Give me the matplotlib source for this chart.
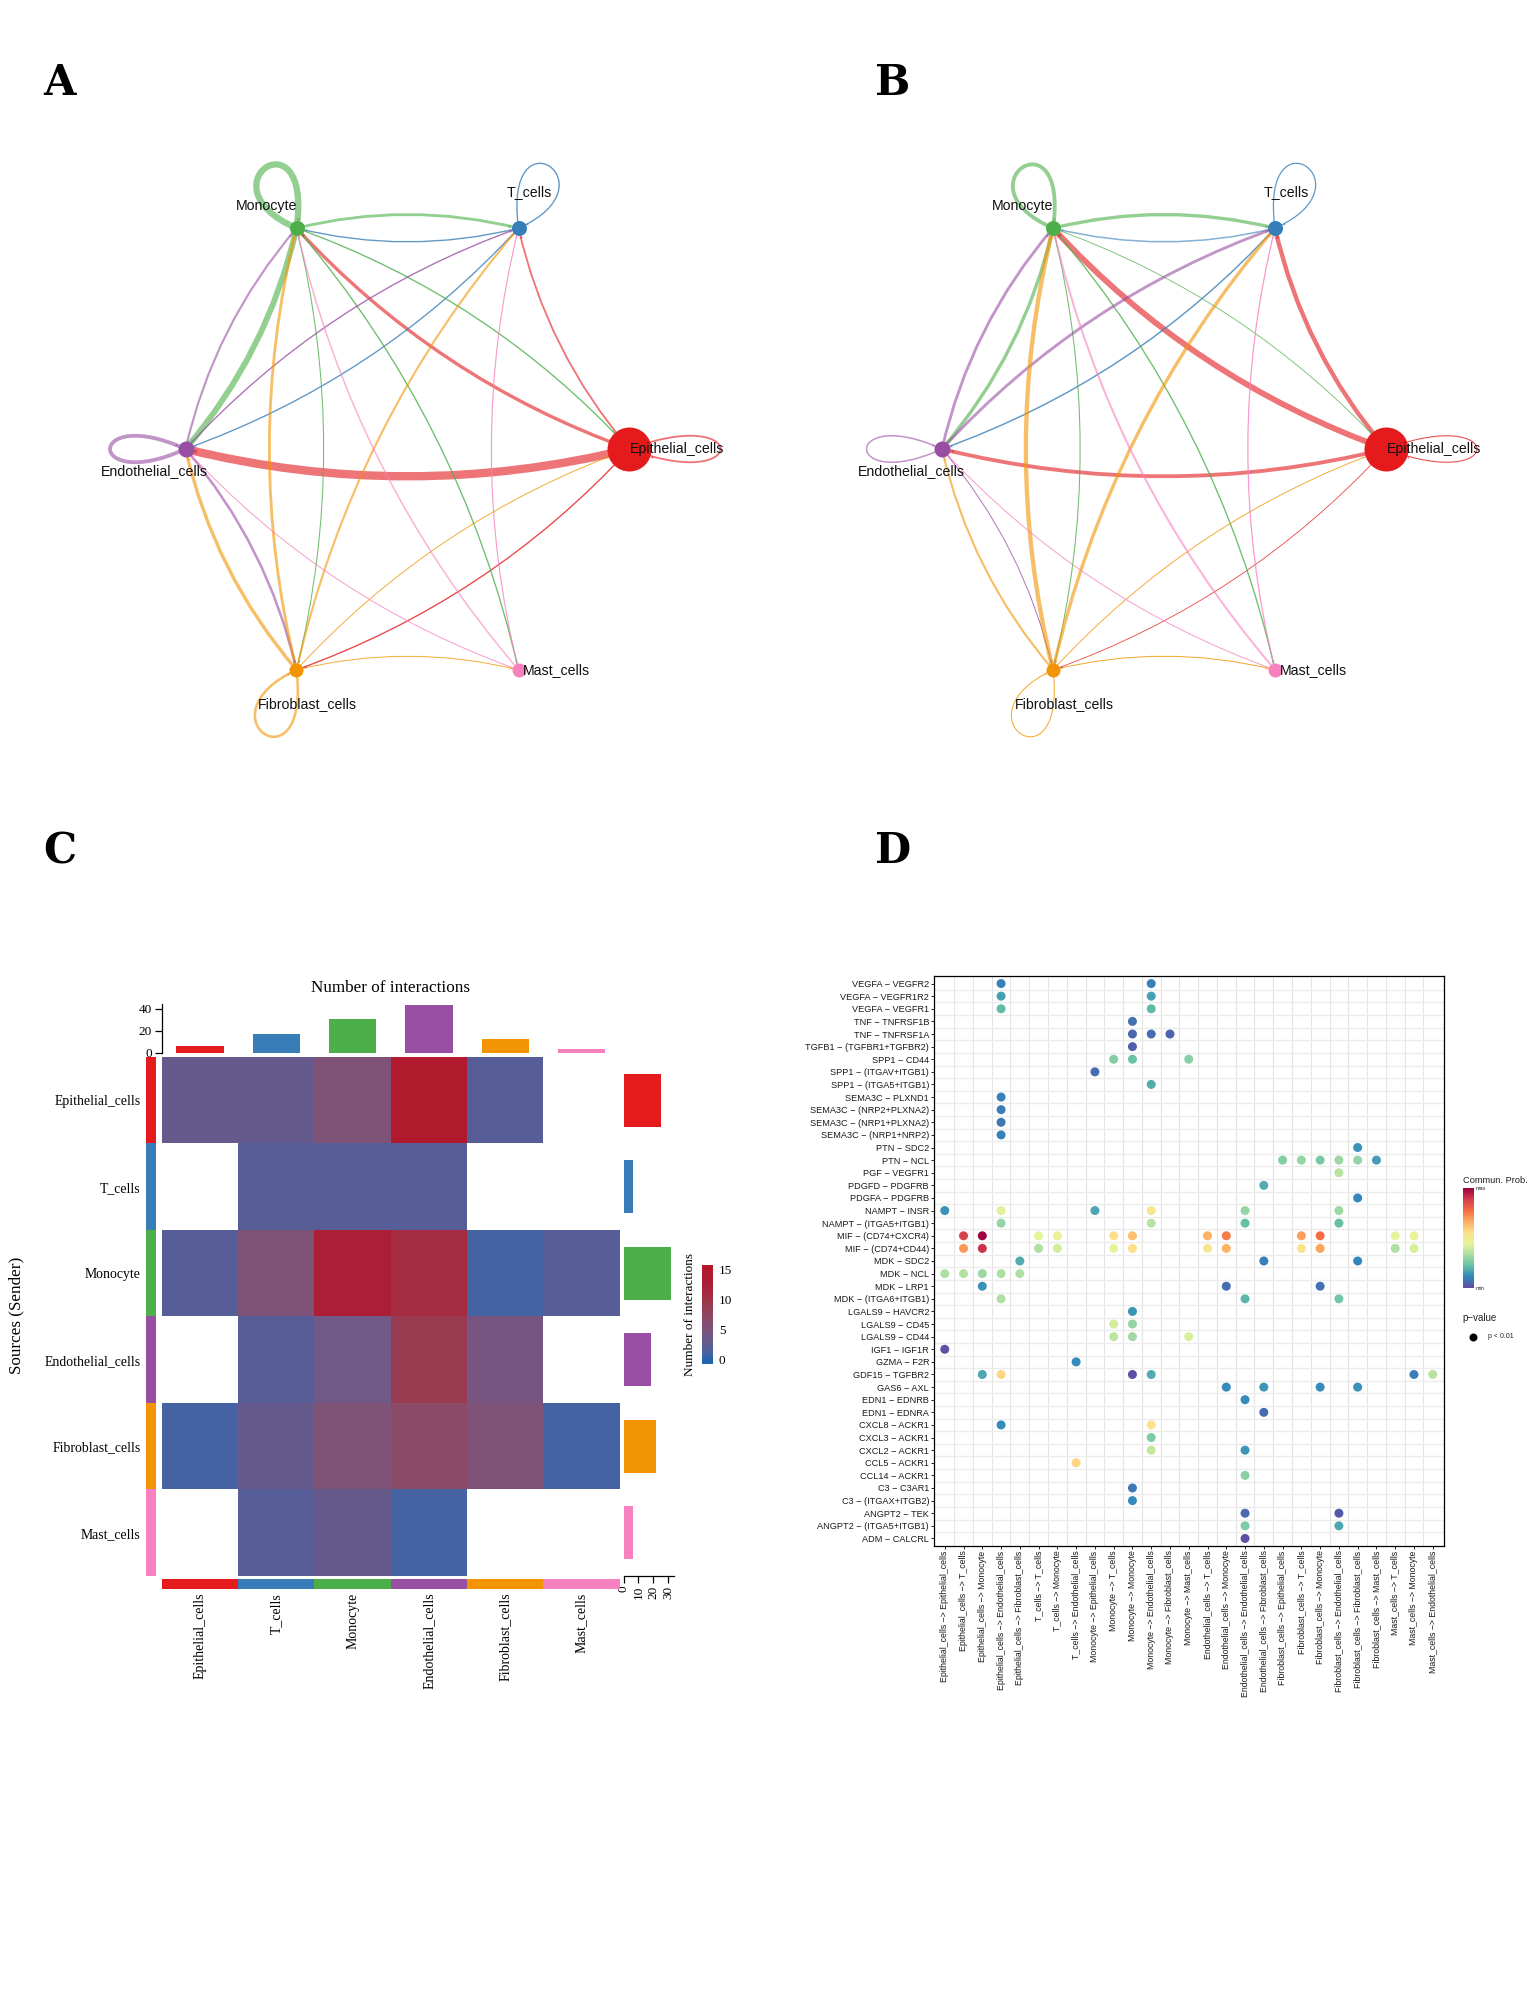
import numpy as np
import matplotlib
matplotlib.use('Agg')
import matplotlib.pyplot as plt
from matplotlib.colors import LinearSegmentedColormap, Normalize
from matplotlib.lines import Line2D
from matplotlib.patches import PathPatch
from matplotlib.path import Path

W, H = 1539, 1992
PT = 0.72  # px to points at dpi 100

cell_types = ['Epithelial_cells', 'T_cells', 'Monocyte', 'Endothelial_cells', 'Fibroblast_cells', 'Mast_cells']
cell_colors = ['#E41A1C', '#377EB8', '#4DAF4A', '#984EA3', '#F29403', '#F781BF']

# network panels, rows are senders
weights_a = [[1.5, 1.5, 3, 8, 1, 0],
             [0, 1, 1, 1, 0, 0],
             [1, 2.5, 6, 5.5, 0.7, 1],
             [0, 1, 1.8, 3.5, 2.2, 0],
             [0.6, 1.8, 2.5, 3, 2.2, 0.6],
             [0, 0.8, 1.2, 0.6, 0, 0]]
weights_b = [[0.7, 4, 5.5, 3.5, 0.5, 0],
             [0, 0.9, 1.2, 1.1, 0, 0],
             [0.5, 3, 3.5, 3, 0.7, 1],
             [0, 2.5, 2.5, 1.2, 0.6, 0],
             [0.6, 3, 4, 1.8, 0.7, 0.7],
             [0, 0.9, 1.7, 0.6, 0, 0]]
node_radius = [22, 7.5, 7.5, 8, 7, 7]

# heatmap panel
heat_values = [[3, 3, 5, 14.8, 2, np.nan],
               [np.nan, 2, 2, 2, np.nan, np.nan],
               [2, 5, 13, 11, 1, 2],
               [np.nan, 2, 4, 9, 4.5, np.nan],
               [1, 3, 5, 7, 5, 1],
               [np.nan, 2, 3, 1, np.nan, np.nan]]
top_bars = [6, 17, 31, 43, 12, 3]
right_bars = [25, 6.5, 32, 18.5, 21.5, 6.5]

# dot panel
pairs = ['VEGFA − VEGFR2', 'VEGFA − VEGFR1R2', 'VEGFA − VEGFR1', 'TNF − TNFRSF1B', 'TNF − TNFRSF1A',
         'TGFB1 − (TGFBR1+TGFBR2)', 'SPP1 − CD44', 'SPP1 − (ITGAV+ITGB1)', 'SPP1 − (ITGA5+ITGB1)',
         'SEMA3C − PLXND1', 'SEMA3C − (NRP2+PLXNA2)', 'SEMA3C − (NRP1+PLXNA2)', 'SEMA3C − (NRP1+NRP2)',
         'PTN − SDC2', 'PTN − NCL', 'PGF − VEGFR1', 'PDGFD − PDGFRB', 'PDGFA − PDGFRB', 'NAMPT − INSR',
         'NAMPT − (ITGA5+ITGB1)', 'MIF − (CD74+CXCR4)', 'MIF − (CD74+CD44)', 'MDK − SDC2', 'MDK − NCL',
         'MDK − LRP1', 'MDK − (ITGA6+ITGB1)', 'LGALS9 − HAVCR2', 'LGALS9 − CD45', 'LGALS9 − CD44',
         'IGF1 − IGF1R', 'GZMA − F2R', 'GDF15 − TGFBR2', 'GAS6 − AXL', 'EDN1 − EDNRB', 'EDN1 − EDNRA',
         'CXCL8 − ACKR1', 'CXCL3 − ACKR1', 'CXCL2 − ACKR1', 'CCL5 − ACKR1', 'CCL14 − ACKR1', 'C3 − C3AR1',
         'C3 − (ITGAX+ITGB2)', 'ANGPT2 − TEK', 'ANGPT2 − (ITGA5+ITGB1)', 'ADM − CALCRL']
senders = ['Epithelial_cells'] * 5 + ['T_cells'] * 3 + ['Monocyte'] * 6 + ['Endothelial_cells'] * 4 \
    + ['Fibroblast_cells'] * 6 + ['Mast_cells'] * 3
receivers = ['Epithelial_cells', 'T_cells', 'Monocyte', 'Endothelial_cells', 'Fibroblast_cells',
             'T_cells', 'Monocyte', 'Endothelial_cells',
             'Epithelial_cells', 'T_cells', 'Monocyte', 'Endothelial_cells', 'Fibroblast_cells', 'Mast_cells',
             'T_cells', 'Monocyte', 'Endothelial_cells', 'Fibroblast_cells',
             'Epithelial_cells', 'T_cells', 'Monocyte', 'Endothelial_cells', 'Fibroblast_cells', 'Mast_cells',
             'T_cells', 'Monocyte', 'Endothelial_cells']
# one dict per row of the plot: column index -> probability (0 min, 1 max)
dots = [{3: .10, 11: .10}, {3: .16, 11: .16}, {3: .21, 11: .21}, {10: .07}, {10: .05, 11: .06, 12: .04},
        {10: .03}, {9: .27, 10: .23, 13: .28}, {8: .06}, {11: .18}, {3: .10}, {3: .09}, {3: .08}, {3: .10},
        {22: .13}, {18: .27, 19: .30, 20: .25, 21: .31, 22: .30, 23: .15}, {21: .36}, {17: .18}, {22: .11},
        {0: .13, 3: .43, 8: .17, 11: .53, 16: .30, 21: .31}, {3: .30, 11: .36, 16: .22, 21: .22},
        {1: .88, 2: 1.0, 5: .44, 6: .48, 9: .56, 10: .63, 14: .66, 15: .75, 19: .69, 20: .78, 24: .44, 25: .46},
        {1: .70, 2: .91, 5: .34, 6: .41, 9: .44, 10: .56, 14: .52, 15: .66, 19: .54, 20: .68, 24: .34, 25: .42},
        {4: .18, 17: .09, 22: .11}, {0: .34, 1: .35, 2: .31, 3: .34, 4: .34}, {2: .13, 15: .06, 20: .07},
        {3: .34, 16: .20, 21: .24}, {10: .14}, {9: .41, 10: .30}, {9: .37, 10: .32, 13: .42}, {0: .01},
        {7: .12}, {2: .17, 3: .58, 10: .0, 11: .18, 25: .09, 26: .36}, {15: .12, 17: .14, 20: .12, 22: .13},
        {16: .12}, {17: .06}, {3: .12, 11: .55}, {11: .26}, {11: .38, 16: .14}, {7: .58}, {16: .28}, {10: .08},
        {10: .12}, {16: .05, 21: .02}, {16: .26, 21: .17}, {16: .0}]
spectral = ['#5E4FA2', '#3288BD', '#66C2A5', '#ABDDA4', '#E6F598', '#FEE08B', '#FDAE61', '#F46D43', '#D53E4F', '#9E0142']

serif = 'Liberation Serif'
sans = 'Liberation Sans'
fig = plt.figure(figsize=(W / 100, H / 100), dpi=100, facecolor='white')


def px_axes(x0, y0, w, h):
    return fig.add_axes([x0 / W, 1 - (y0 + h) / H, w / W, h / H])


def px_text(x, y, s, **kw):
    fig.text(x / W, 1 - y / H, s, **kw)


for letter, (lx, ly) in zip('ABCD', [(43, 95), (875, 95), (43, 863), (875, 863)]):
    px_text(lx, ly, letter, fontsize=30, fontweight='bold', family='DejaVu Serif', va='baseline')


def draw_network(cx, cy, rx, ry, weights):
    ax = px_axes(cx - 1.5 * rx, cy - 1.3 * ry, 3 * rx, 2.6 * ry)
    ax.set_xlim(-1.5, 1.5)
    ax.set_ylim(-1.3, 1.3)
    ax.axis('off')
    angles = np.deg2rad(np.arange(6) * 60)
    pos = np.column_stack([np.cos(angles), np.sin(angles)])
    loop_len = [0.41, 0.28, 0.275, 0.34, 0.29, 0.3]
    loop_wide = [0.18, 0.30, 0.30, 0.18, 0.30, 0.30]
    label_off = [(48, 0), (11, 36), (-30, 22), (-31, -22), (11, -34), (38, 0)]
    to_px = ax.transData.transform
    to_data = ax.transData.inverted().transform
    for i in range(6):
        for j in range(6):
            lw = weights[i][j]
            if lw == 0:
                continue
            col = cell_colors[i]
            if i == j:
                c, s = np.cos(angles[i]), np.sin(angles[i])
                a, b = loop_len[i] / 0.75, loop_wide[i]
                cp = np.array([[a, b], [a, -b]])
                rot = np.column_stack([cp[:, 0] * c - cp[:, 1] * s, cp[:, 0] * s + cp[:, 1] * c])
                verts = [pos[i], pos[i] + rot[0], pos[i] + rot[1], pos[i]]
                codes = [Path.MOVETO, Path.CURVE4, Path.CURVE4, Path.CURVE4]
                ctrl = pos[i] + rot[1]
            else:
                # the bend is the same share of the chord on screen in every direction
                p0, p1 = to_px(pos[i]), to_px(pos[j])
                d = p1 - p0
                ctrl = to_data((p0 + p1) / 2 + 0.123 * np.array([-d[1], d[0]]))
                verts = [pos[i], ctrl, pos[j]]
                codes = [Path.MOVETO, Path.CURVE3, Path.CURVE3]
            alpha = 0.8 if lw < 1.2 else 0.6
            ax.add_patch(PathPatch(Path(verts, codes), fill=False, ec=col, alpha=alpha, lw=(lw + 0.35) * PT,
                                   capstyle='butt', zorder=2))
            # small arrow head on the rim of the target node
            px_t = to_px(pos[j])
            px_c = to_px(ctrl)
            u = (px_t - px_c) / np.hypot(*(px_t - px_c))
            tip = to_data(px_t - u * (node_radius[j] + 2))
            ang = np.degrees(np.arctan2(u[1], u[0])) - 90
            ax.plot(tip[0], tip[1], marker=(3, 0, ang), ms=2 + lw * 0.25, color=col, alpha=0.6, mew=0, zorder=3,
                    clip_on=False)
    for i in range(6):
        ax.plot(pos[i, 0], pos[i, 1], 'o', ms=2 * node_radius[i] * PT, color=cell_colors[i], mew=0, zorder=4)
        ax.annotate(cell_types[i], pos[i], xytext=(label_off[i][0] * PT, label_off[i][1] * PT),
                    textcoords='offset points', ha='center', va='center', fontsize=10.2, family=sans,
                    color='#111111', zorder=5)


draw_network(407.5, 449, 222, 255, weights_a)
draw_network(1164, 449, 222, 255, weights_b)

# ---------- panel C ----------
hx0, hx1, hy0, hy1 = 161.7, 619.7, 1056.9, 1576
stops = [0, 1, 2, 3, 4, 5, 7, 9, 11, 13, 15]
stop_cols = ['#2166AC', '#4563A2', '#575D97', '#665A8C', '#705887', '#7F5278',
             '#8B4A66', '#983B50', '#A52B40', '#AB1E35', '#B2182B']
heat_cmap = LinearSegmentedColormap.from_list('heat', [(v / 15, c) for v, c in zip(stops, stop_cols)])
heat_norm = Normalize(0, 15)

ax = px_axes(hx0, hy0, hx1 - hx0, hy1 - hy0)
ax.pcolormesh(np.ma.masked_invalid(heat_values), cmap=heat_cmap, norm=heat_norm)
ax.set_xlim(0, 6)
ax.set_ylim(6, 0)
ax.axis('off')

ax = px_axes(hx0, 1004.3, hx1 - hx0, 1052.5 - 1004.3)
ax.bar(np.arange(6) + 0.5, top_bars, width=0.62, color=cell_colors)
ax.set_xlim(0, 6)
ax.set_ylim(0, 44)
ax.set_xticks([])
ax.set_yticks([0, 20, 40])
ax.tick_params(axis='y', length=5, width=0.9, labelsize=9.5, pad=2, labelfontfamily=serif)
for side in ['top', 'right', 'bottom']:
    ax.spines[side].set_visible(False)
ax.spines['left'].set_linewidth(0.9)
px_text((hx0 + hx1) / 2, 987.5, 'Number of interactions', ha='center', va='center', fontsize=12.3, family=serif)

ax = px_axes(623.5, hy0, 50, hy1 - hy0)
ax.barh(np.arange(6) + 0.5, right_bars, height=0.61, color=cell_colors)
ax.set_xlim(0, 50 / 1.49)
ax.set_ylim(6, 0)
ax.set_yticks([])
ax.set_xticks([0, 10, 20, 30])
ax.tick_params(axis='x', length=5, width=0.9, labelsize=9.5, pad=2, labelrotation=90, labelfontfamily=serif)
for side in ['top', 'right', 'left']:
    ax.spines[side].set_visible(False)
ax.spines['bottom'].set_linewidth(0.9)

ax = px_axes(145.6, hy0, 10.2, hy1 - hy0)
ax.barh(np.arange(6) + 0.5, [1] * 6, height=1, color=cell_colors)
ax.set_xlim(0, 1)
ax.set_ylim(6, 0)
ax.set_xticks([])
ax.set_yticks(np.arange(6) + 0.5, cell_types, fontsize=9.9, family=serif)
ax.tick_params(axis='y', length=0, pad=3.5)
for s in ax.spines.values():
    s.set_visible(False)

ax = px_axes(hx0, 1579, hx1 - hx0, 9.6)
ax.bar(np.arange(6) + 0.5, [1] * 6, width=1, color=cell_colors)
ax.set_xlim(0, 6)
ax.set_ylim(0, 1)
ax.set_yticks([])
ax.set_xticks(np.arange(6) + 0.5, cell_types, fontsize=10, family=serif, rotation=90)
ax.tick_params(axis='x', length=0, pad=3)
for s in ax.spines.values():
    s.set_visible(False)

px_text(16, 1315, 'Sources (Sender)', rotation=90, ha='center', va='center', fontsize=12.3, family=serif)

cax = px_axes(701.5, 1265, 11.2, 98.5)
grad = np.linspace(-0.6, 15.7, 200).reshape(-1, 1)
cax.pcolormesh([0, 1], np.linspace(-0.6, 15.7, 201), grad, cmap=heat_cmap, norm=heat_norm)
cax.set_xticks([])
cax.yaxis.tick_right()
cax.set_yticks([0, 5, 10, 15])
cax.tick_params(axis='y', length=0, labelsize=9.5, pad=4.5, labelfontfamily=serif)
for s in cax.spines.values():
    s.set_visible(False)
px_text(690, 1315, 'Number of interactions', rotation=90, ha='center', va='center', fontsize=9.5, family=serif)

# ---------- panel D ----------
dot_cmap = LinearSegmentedColormap.from_list('spec', spectral)
ax = px_axes(933.5, 976, 510.5, 570)
col_idx, row_idx, probs = [], [], []
for r, row in enumerate(dots):
    for c, v in row.items():
        col_idx.append(c)
        row_idx.append(r)
        probs.append(v)
for v in np.arange(0.5, 26):
    ax.axvline(v, color='#e4e4e4', lw=0.8, zorder=1)
for v in np.arange(0.5, 44):
    ax.axhline(v, color='#ececec', lw=1.0, zorder=1)
ax.scatter(col_idx, row_idx, c=probs, cmap=dot_cmap, vmin=0, vmax=1, s=42, linewidths=0, zorder=3)
ax.set_xlim(-0.6, 26.6)
ax.set_ylim(44.6, -0.6)
ax.set_yticks(range(len(pairs)), pairs, fontsize=6.6, family=sans, color='#1a1a1a')
links = [a + ' −> ' + b for a, b in zip(senders, receivers)]
ax.set_xticks(range(len(links)), links, fontsize=6.3, family=sans, rotation=90, color='#1a1a1a')
ax.tick_params(axis='both', length=2.2, width=0.6, pad=1)
for s in ax.spines.values():
    s.set_linewidth(0.9)

px_text(1462.7, 1180.7, 'Commun. Prob.', fontsize=6.7, family=sans, va='center', color='#222222')
cax = px_axes(1462.7, 1188.3, 10.6, 100)
cax.imshow(np.linspace(1, 0, 200).reshape(-1, 1), cmap=dot_cmap, aspect='auto', vmin=0, vmax=1)
cax.axis('off')
px_text(1476, 1189, 'max', fontsize=4, family=sans, va='center', color='#222222')
px_text(1476, 1288, 'min', fontsize=4, family=sans, va='center', color='#222222')
px_text(1462.7, 1317.7, 'p−value', fontsize=7, family=sans, va='center', color='#222222')
fig.add_artist(Line2D([1473.3 / W], [1 - 1336.7 / H], marker='o', ms=8 * PT, color='black', mew=0,
                      transform=fig.transFigure))
px_text(1488, 1336.7, 'p < 0.01', fontsize=5, family=sans, va='center', color='#222222')

fig.savefig('out.png', dpi=100)
